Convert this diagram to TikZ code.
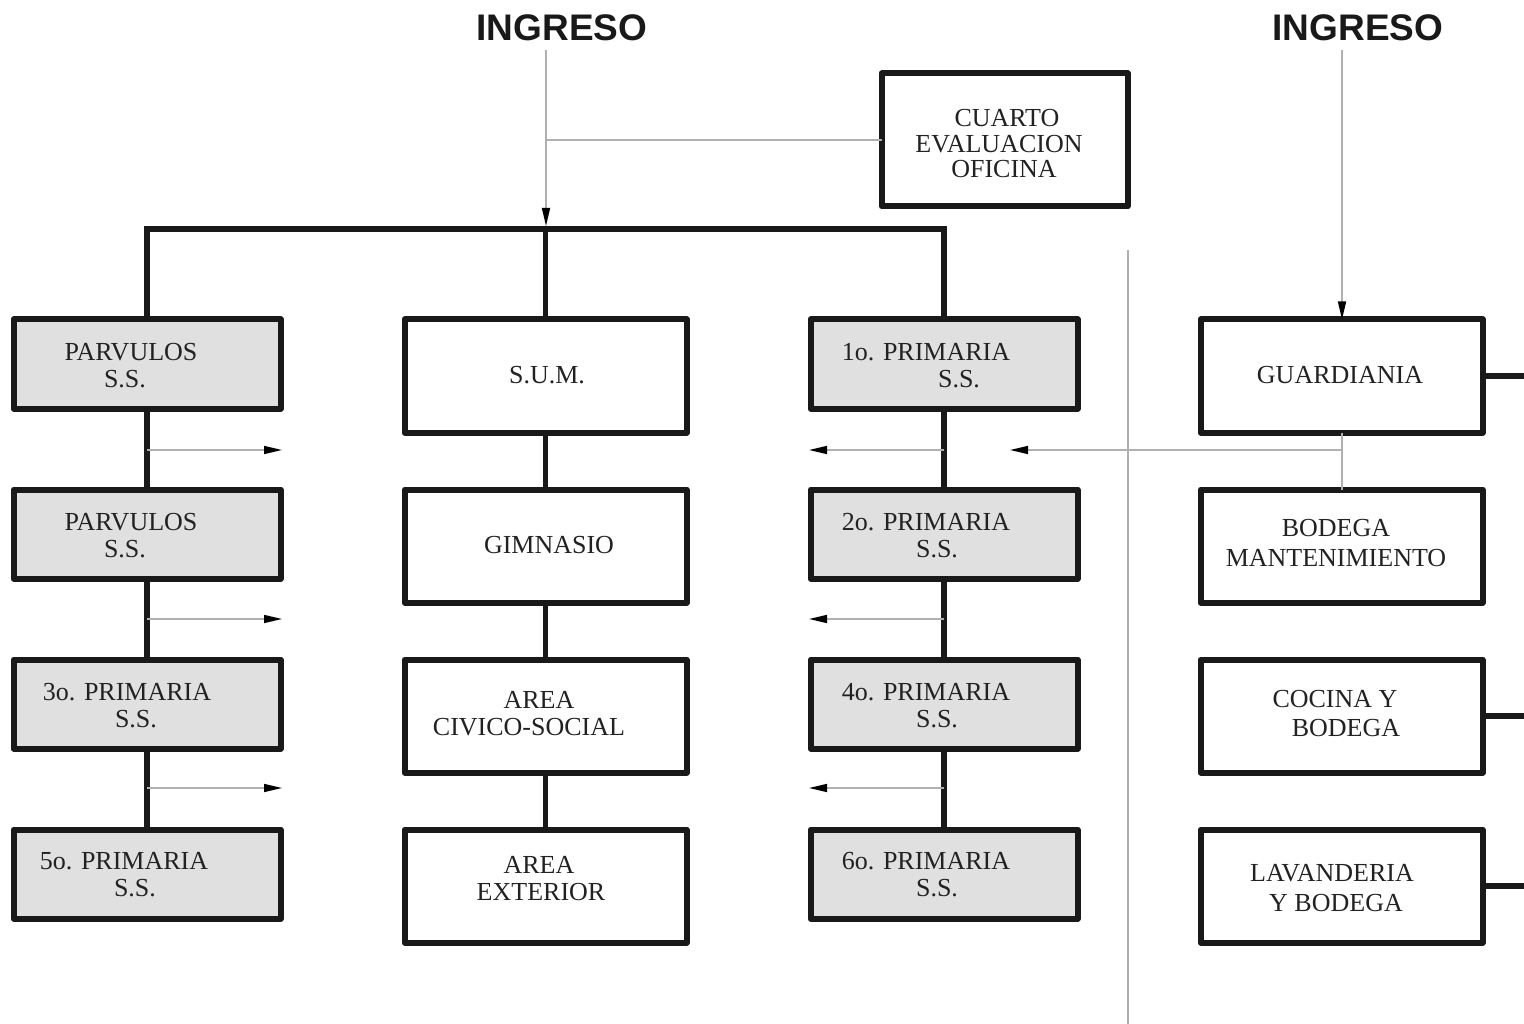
\documentclass[tikz,border=0pt]{standalone}
\usepackage{fontspec}
\setmainfont{Liberation Serif}
\newfontfamily\headfont{Liberation Sans}
\usetikzlibrary{arrows.meta,calc}
\definecolor{boxgray}{HTML}{E0E0E0}
\definecolor{thingray}{HTML}{B0B0B0}
\definecolor{txt}{HTML}{222222}
\tikzset{
  box/.style={draw=black!90, line width=6pt, fill=white, inner sep=0pt, outer sep=0pt, line join=round},
  graybox/.style={box, fill=boxgray},
  smallbox/.style={minimum width=267pt, minimum height=89pt},
  bigbox/.style={minimum width=282pt, minimum height=113pt},
  lbl/.style={text=txt, font=\fontsize{26}{27}\selectfont, align=center, inner sep=0pt},
  head/.style={text=black!90, font=\headfont\bfseries\fontsize{37}{40}\selectfont, inner sep=0pt},
  bus/.style={draw=black!90, line width=5.5pt},
  thinline/.style={draw=thingray, line width=1.5pt},
  thinarrow/.style={thinline, -{Triangle[length=18pt,width=8pt,color=black]}},
}
\begin{document}
\begin{tikzpicture}[x=1pt,y=-1pt]
\useasboundingbox[fill=white] (0,0) rectangle (1524,1024);

% headings
\node[head] (ing1) at (562,28) {INGRESO};
\node[head] (ing2) at (1358,28) {INGRESO};

% separator line
\coordinate (sepT) at (1128,250);
\coordinate (sepB) at (1128,1024);
\draw[thinline] (sepT) -- (sepB);

% left column
\node[graybox, smallbox] (p1) at (147,364) {};
\node[graybox, smallbox] (p2) at (147,534) {};
\node[graybox, smallbox] (p3) at (147,704) {};
\node[graybox, smallbox] (p4) at (147,874) {};
% middle column
\node[box, bigbox] (s1) at (545.5,376) {};
\node[box, bigbox] (s2) at (545.5,546) {};
\node[box, bigbox] (s3) at (545.5,716) {};
\node[box, bigbox] (s4) at (545.5,886) {};
% right primaria column
\node[graybox, smallbox] (q1) at (944,364) {};
\node[graybox, smallbox] (q2) at (944,534) {};
\node[graybox, smallbox] (q3) at (944,704) {};
\node[graybox, smallbox] (q4) at (944,874) {};
% far right column
\node[box, bigbox] (g1) at (1341.5,376) {};
\node[box, bigbox] (g2) at (1341.5,546) {};
\node[box, bigbox] (g3) at (1341.5,716) {};
\node[box, bigbox] (g4) at (1341.5,886) {};
% office
\node[box, minimum width=246pt, minimum height=133pt] (of) at (1004.5,140) {};

% labels
\node[lbl] (tp1) at (131,366) {PARVULOS\\\hspace*{-12pt}S.S.};
\node[lbl] (tp2) at (131,536) {PARVULOS\\\hspace*{-12pt}S.S.};
\node[lbl] (tp3) at (127,706) {3o. PRIMARIA\\\hspace*{18pt}S.S.};
\node[lbl] (tp4) at (124,875) {5o. PRIMARIA\\\hspace*{22pt}S.S.};
\node[lbl] (ts1) at (547,375) {S.U.M.};
\node[lbl] (ts2) at (549,545) {GIMNASIO};
\node[lbl] (ts3) at (529,714) {\hspace*{20pt}AREA\\CIVICO-SOCIAL};
\node[lbl] (ts4) at (541,879) {\hspace*{-4pt}AREA\\EXTERIOR};
\node[lbl] (tq1) at (926,366) {1o. PRIMARIA\\\hspace*{66pt}S.S.};
\node[lbl] (tq2) at (926,536) {2o. PRIMARIA\\\hspace*{22pt}S.S.};
\node[lbl] (tq3) at (926,706) {4o. PRIMARIA\\\hspace*{22pt}S.S.};
\node[lbl] (tq4) at (926,875) {6o. PRIMARIA\\\hspace*{22pt}S.S.};
\node[lbl] (tg1) at (1340,375) {GUARDIANIA};
\node[lbl, font=\fontsize{26}{30}\selectfont] (tg2) at (1336,543) {BODEGA\\MANTENIMIENTO};
\node[lbl, font=\fontsize{26}{29}\selectfont] (tg3) at (1340,714) {\hspace*{-10pt}COCINA Y\\\hspace*{12pt}BODEGA};
\node[lbl, font=\fontsize{26}{30}\selectfont] (tg4) at (1332,888) {LAVANDERIA\\\hspace*{8pt}Y BODEGA};
\node[lbl, font=\fontsize{26}{25.5}\selectfont] (tof) at (1004,144) {\hspace*{6pt}CUARTO\\\hspace*{-10pt}EVALUACION\\OFICINA};

% bus
\coordinate (busL) at (147,229);
\coordinate (busR) at (944,229);
\draw[bus] (p1.north) -- (busL) -- (busR) -- (q1.north);
\draw[bus] (s1.north) -- (s1.north |- busL);

% column links
\draw[bus] (p1) -- (p2); \draw[bus] (p2) -- (p3); \draw[bus] (p3) -- (p4);
\draw[bus] (s1) -- (s2); \draw[bus] (s2) -- (s3); \draw[bus] (s3) -- (s4);
\draw[bus] (q1) -- (q2); \draw[bus] (q2) -- (q3); \draw[bus] (q3) -- (q4);

% entrance lines
\coordinate (in1) at (546,50);
\coordinate (in1b) at (546,226);
\coordinate (in1m) at (546,140);
\draw[thinarrow] (in1) -- (in1b);
\draw[thinline] (in1m) -- (of.west);
\coordinate (in2) at (1342,50);
\draw[thinarrow] (in2) -- (in2 |- g1.north);

% left arrows (pointing right)
\coordinate (la1) at (147,450); \coordinate (lb1) at (282,450);
\coordinate (la2) at (147,619); \coordinate (lb2) at (282,619);
\coordinate (la3) at (147,788); \coordinate (lb3) at (282,788);
\draw[thinarrow] (la1) -- (lb1);
\draw[thinarrow] (la2) -- (lb2);
\draw[thinarrow] (la3) -- (lb3);
% right arrows (pointing left)
\coordinate (ra1) at (944,450); \coordinate (rb1) at (809,450);
\coordinate (ra2) at (944,619); \coordinate (rb2) at (809,619);
\coordinate (ra3) at (944,788); \coordinate (rb3) at (809,788);
\draw[thinarrow] (ra1) -- (rb1);
\draw[thinarrow] (ra2) -- (rb2);
\draw[thinarrow] (ra3) -- (rb3);
% guardiania link
\coordinate (gm) at (1342,450);
\coordinate (ge) at (1010,450);
\draw[thinline] (g1.south -| gm) -- (g2.north -| gm);
\draw[thinarrow] (gm) -- (ge);

% right stubs
\coordinate (st1) at (1524,376);
\coordinate (st3) at (1524,716);
\coordinate (st4) at (1524,886);
\draw[bus] (g1.east) -- (st1);
\draw[bus] (g3.east) -- (st3);
\draw[bus] (g4.east) -- (st4);
\end{tikzpicture}
\end{document}
